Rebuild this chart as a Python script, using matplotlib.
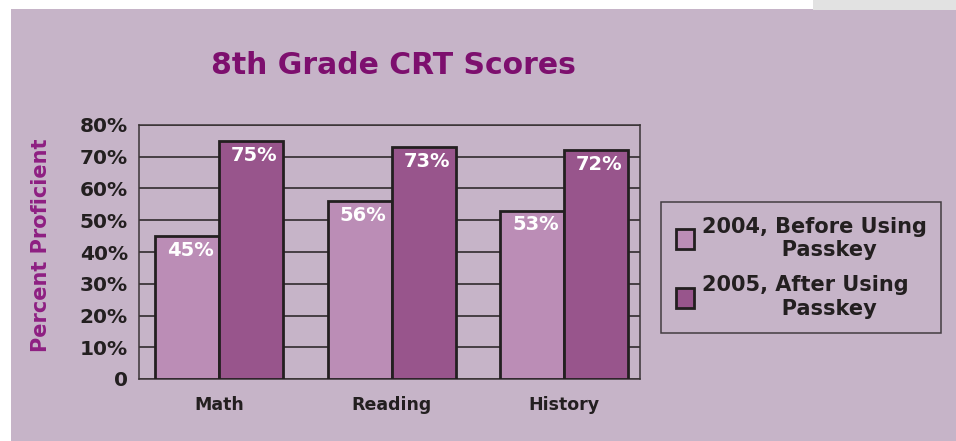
import matplotlib
matplotlib.use("Agg")
import matplotlib.pyplot as plt
from matplotlib.patches import Rectangle, Patch
import numpy as np

subjects = ["Math", "Reading", "History"]
scores_2004 = [45, 56, 53]
scores_2005 = [75, 73, 72]
series_labels = ["2004, Before Using\n           Passkey",
                 "2005, After Using\n           Passkey"]
y_ticks = [0, 10, 20, 30, 40, 50, 60, 70, 80]
y_tick_labels = ["0", "10%", "20%", "30%", "40%", "50%", "60%", "70%", "80%"]

BG = "#c6b4c8"
LIGHT = "#bb8db6"
DARK = "#98558c"
EDGE = "#231f20"
TITLE_COLOR = "#7d0f6e"

plt.rcParams['font.family'] = ['DejaVu Sans']
plt.rcParams['font.weight'] = 'bold'

W, H = 956, 441
fig = plt.figure(figsize=(W / 100, H / 100), dpi=100)
fig.patch.set_facecolor("white")
# marble-ish backdrop, with white margins on top and left
fig.add_artist(Rectangle((11 / W, 0), 1 - 11 / W, 1 - 9 / H, transform=fig.transFigure,
                         facecolor=BG, edgecolor="none", zorder=-10))
fig.add_artist(Rectangle((813 / W, 1 - 10 / H), 1 - 813 / W, 10 / H, transform=fig.transFigure,
                         facecolor="#e2e2e2", edgecolor="none", zorder=-10))

ax = fig.add_axes([139 / W, 1 - 379 / H, (640 - 139) / W, (379 - 125) / H])
ax.set_facecolor("none")

x = np.arange(len(subjects))
width = 0.371
b1 = ax.bar(x - width / 2, scores_2004, width, color=LIGHT, edgecolor=EDGE, linewidth=2,
            zorder=3, label=series_labels[0])
b2 = ax.bar(x + width / 2, scores_2005, width, color=DARK, edgecolor=EDGE, linewidth=2,
            zorder=3, label=series_labels[1])

for bars in (b1, b2):
    for rect in bars:
        h = rect.get_height()
        ax.text(rect.get_x() + rect.get_width() / 2 + 0.02, h - 1.5, f"{h:g}%",
                ha="center", va="top", color="white", fontsize=14, fontweight="bold", zorder=4)

ax.set_xlim(-0.464, 2.44)
ax.set_ylim(0, 80)
ax.set_yticks(y_ticks)
ax.set_yticklabels(y_tick_labels, fontsize=14.5, fontweight="bold", color="#231f20")
ax.set_xticks(x)
ax.set_xticklabels(subjects, fontsize=12.5, fontweight="bold", color="#231f20")
ax.tick_params(axis="both", length=0)
ax.tick_params(axis="y", pad=8)
ax.tick_params(axis="x", pad=12)
ax.yaxis.grid(True, color="#231f20", linewidth=1.1, zorder=1)
for s in ax.spines.values():
    s.set_color("#3a3436")
    s.set_linewidth(1.1)

ax.set_ylabel("Percent Proficient", fontsize=15, fontweight="bold", color="#8e1f82")
ax.yaxis.set_label_coords(-88 / (640 - 139), 0.525)

fig.text(393 / W, 1 - 66 / H, "8th Grade CRT Scores", ha="center", va="center",
         fontsize=21.5, fontweight="bold", color=TITLE_COLOR)

handles = [Patch(facecolor=LIGHT, edgecolor=EDGE, linewidth=2),
           Patch(facecolor=DARK, edgecolor=EDGE, linewidth=2)]
leg = fig.legend(handles, series_labels, loc="upper left",
                 bbox_to_anchor=(661 / W, 1 - 202 / H), frameon=True, fancybox=False,
                 prop={"size": 15, "weight": "bold"}, handlelength=0.9, handleheight=1.1,
                 handletextpad=0.35, labelspacing=0.75, borderpad=0.7, borderaxespad=0)
leg.get_frame().set_facecolor("none")
leg.get_frame().set_edgecolor("#231f20")
leg.get_frame().set_linewidth(1.1)
for t in leg.get_texts():
    t.set_color("#231f20")

fig.savefig("out.png", dpi=100, facecolor=fig.get_facecolor())
